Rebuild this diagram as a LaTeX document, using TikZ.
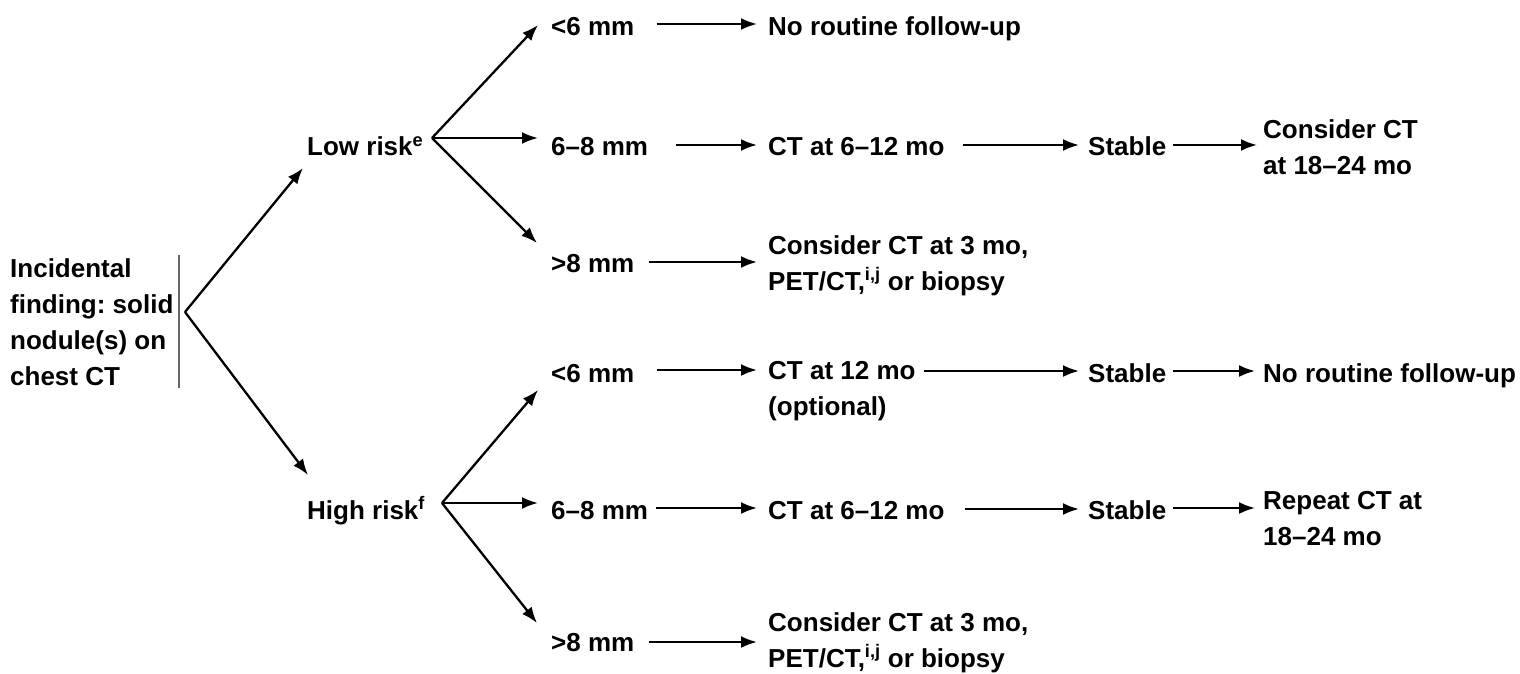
\documentclass[tikz,border=0pt]{standalone}
\usepackage{fontspec}
\setmainfont{Liberation Sans}
\usetikzlibrary{arrows.meta}
\frenchspacing
\tikzset{
  lbl/.style={anchor=base west, inner sep=0pt, align=left,
              font=\bfseries\fontsize{26}{36}\selectfont, text=black},
  arr/.style={line width=2.3pt, -{Latex[length=16pt,width=12pt]}},
  rootbar/.style={line width=2.8pt, draw=black!60},
}
\begin{document}
\begin{tikzpicture}[x=1pt,y=-1pt]
\useasboundingbox (0,0) rectangle (1520,674);
% nodes (base = baseline of the last line)
\node[lbl] (root) at (10,385) {Incidental\\finding: solid\\nodule(s) on\\chest CT};
\node[lbl] (low)  at (307,156) {Low risk\textsuperscript{e}};
\node[lbl] (high) at (307,519) {High risk\textsuperscript{f}};
% low risk branch
\node[lbl] (l6)   at (551,36)  {<6 mm};
\node[lbl] (l68)  at (551,156) {6–8 mm};
\node[lbl] (l8)   at (551,272) {>8 mm};
\node[lbl] (lno)  at (768,36)  {No routine follow-up};
\node[lbl] (lct)  at (768,156) {CT at 6–12 mo};
\node[lbl] (lst)  at (1088,156) {Stable};
\node[lbl] (lcons) at (1263,175) {Consider CT\\at 18–24 mo};
\node[lbl] (l8c)  at (768,290) {Consider CT at 3 mo,\\PET/CT,\textsuperscript{i,j} or biopsy};
% high risk branch
\node[lbl] (h6)   at (551,382) {<6 mm};
\node[lbl] (hct12) at (768,415) {CT at 12 mo\\(optional)};
\node[lbl] (hst1) at (1088,382) {Stable};
\node[lbl] (hno)  at (1263,382) {No routine follow-up};
\node[lbl] (h68)  at (551,519) {6–8 mm};
\node[lbl] (hct)  at (768,519) {CT at 6–12 mo};
\node[lbl] (hst2) at (1088,519) {Stable};
\node[lbl] (hrep) at (1263,545) {Repeat CT at\\18–24 mo};
\node[lbl] (h8)   at (551,651) {>8 mm};
\node[lbl] (h8c)  at (768,667) {Consider CT at 3 mo,\\PET/CT,\textsuperscript{i,j} or biopsy};
% fork points
\coordinate (f0) at (185,312);
\coordinate (lf) at (432,138);
\coordinate (hf) at (442,503);
% bar
\draw[rootbar] (179,255) -- (179,388);
% root arrows
\draw[arr] (f0) -- ([shift={(-4,12)}]low.base west);
\draw[arr] (f0) -- ([shift={(1,-44)}]high.base west);
% low fork
\draw[arr] (lf) -- ([shift={(-13,-11)}]l6.base west);
\draw[arr] (lf) -- ([shift={(-13,-18)}]l68.base west);
\draw[arr] (lf) -- ([shift={(-14,-29)}]l8.base west);
% high fork
\draw[arr] (hf) -- ([shift={(-13,8)}]h6.base west);
\draw[arr] (hf) -- ([shift={(-13,-16)}]h68.base west);
\draw[arr] (hf) -- ([shift={(-14,-28)}]h8.base west);
% low rows
\draw[arr] ([shift={(22,-12)}]l6.base east) -- ([shift={(-11,-12)}]lno.base west);
\draw[arr] ([shift={(28,-11)}]l68.base east) -- ([shift={(-11,-11)}]lct.base west);
\draw[arr] ([shift={(18,-11)}]lct.base east) -- ([shift={(-9,-11)}]lst.base west);
\draw[arr] ([shift={(7,-11)}]lst.base east) -- ([shift={(-6,-30)}]lcons.base west);
\draw[arr] ([shift={(14,-10)}]l8.base east) -- ([shift={(-11,-28)}]l8c.base west);
% high rows
\draw[arr] ([shift={(22,-12)}]h6.base east) -- ([shift={(-11,-45)}]hct12.base west);
\draw[arr] ([shift={(8,-44)}]hct12.base east) -- ([shift={(-9,-11)}]hst1.base west);
\draw[arr] ([shift={(7,-11)}]hst1.base east) -- ([shift={(-8,-11)}]hno.base west);
\draw[arr] ([shift={(8,-11)}]h68.base east) -- ([shift={(-11,-11)}]hct.base west);
\draw[arr] ([shift={(20,-10)}]hct.base east) -- ([shift={(-9,-10)}]hst2.base west);
\draw[arr] ([shift={(7,-11)}]hst2.base east) -- ([shift={(-8,-37)}]hrep.base west);
\draw[arr] ([shift={(14,-9)}]h8.base east) -- ([shift={(-11,-25)}]h8c.base west);
\end{tikzpicture}
\end{document}
